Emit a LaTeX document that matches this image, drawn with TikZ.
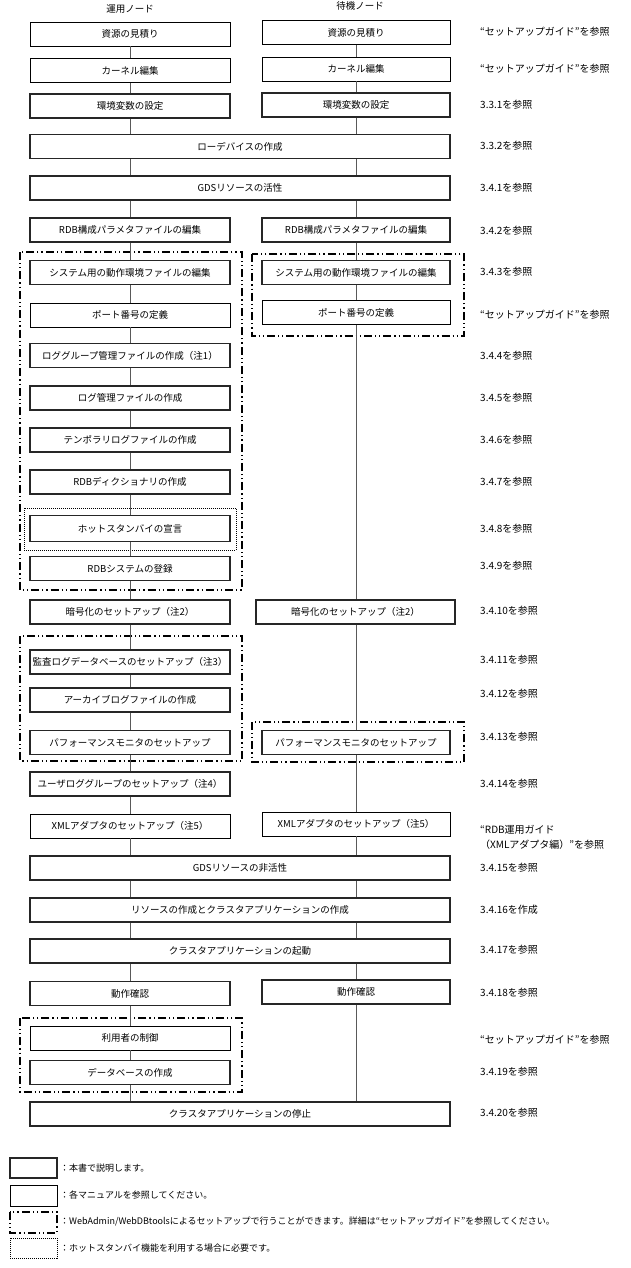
\documentclass[tikz,border=0pt]{standalone}
\usepackage{fontspec}
\setmainfont{Noto Sans CJK JP}
\begin{document}
\begin{tikzpicture}[x=1pt,y=-1pt,
  txt/.style={font=\fontsize{9.5}{11}\selectfont, inner sep=0pt},
  box/.style={txt, draw=black, line width=0.7pt, minimum height=24pt},
  tbox/.style={box, line width=1.4pt, draw=black!85},
  lw/.style={minimum width=200pt},
  rw/.style={minimum width=188pt},
  ww/.style={minimum width=420pt},
  reftxt/.style={txt, anchor=west, font=\fontsize{10}{12}\selectfont},
  legtxt/.style={txt, anchor=west, font=\fontsize{9}{11}\selectfont},
  link/.style={draw=black!65, line width=0.7pt},
  grp/.style={line width=1.2pt, dash pattern=on 8pt off 3pt on 1.2pt off 3pt on 1.2pt off 3pt},
  dotgrp/.style={line width=0.9pt, dash pattern=on 1pt off 1pt}]
\useasboundingbox (0,0) rectangle (630,1268);

% headers
\node[txt] (h1) at (130,9) {運用ノード};
\node[txt] (h2) at (360,6) {待機ノード};

% groups
\draw[grp] (20,252) rectangle (242,590);
\draw[grp] (252,254) rectangle (464,336);
\draw[dotgrp] (24,508) rectangle (236,550);
\draw[grp] (20,636) rectangle (242,761);
\draw[grp] (252,722) rectangle (464,762);
\draw[grp] (20,1018) rectangle (242,1092);

% left / wide boxes
\node[box,lw]  (L1) at (130,34) {資源の見積り};
\node[box,lw]  (L2) at (130,70.5) {カーネル編集};
\node[tbox,lw] (L3) at (130,106) {環境変数の設定};
\node[tbox,ww] (W4) at (240,146.5) {ローデバイスの作成};
\node[tbox,ww] (W5) at (240,188) {GDSリソースの活性};
\node[tbox,lw] (L6) at (130,230) {RDB構成パラメタファイルの編集};
\node[tbox,lw] (L7) at (130,272.5) {システム用の動作環境ファイルの編集};
\node[box,lw]  (L8) at (130,315) {ポート番号の定義};
\node[tbox,lw] (L9) at (130,355.5) {ロググループ管理ファイルの作成（注1）};
\node[tbox,lw] (L10) at (130,398) {ログ管理ファイルの作成};
\node[tbox,lw] (L11) at (130,440) {テンポラリログファイルの作成};
\node[tbox,lw] (L12) at (130,482) {RDBディクショナリの作成};
\node[tbox,lw,minimum height=26pt] (L13) at (130,528.5) {ホットスタンバイの宣言};
\node[tbox,lw] (L14) at (130,568.5) {RDBシステムの登録};
\node[tbox,lw] (L15) at (130,612) {暗号化のセットアップ（注2）};
\node[tbox,lw] (L16) at (130,662) {監査ログデータベースのセットアップ（注3）};
\node[tbox,lw] (L17) at (130,700) {アーカイブログファイルの作成};
\node[tbox,lw] (L18) at (130,742.5) {パフォーマンスモニタのセットアップ};
\node[tbox,lw] (L19) at (130,784) {ユーザロググループのセットアップ（注4）};
\node[box,lw]  (L20) at (130,826) {XMLアダプタのセットアップ（注5）};
\node[tbox,ww] (W21) at (240,868) {GDSリソースの非活性};
\node[tbox,ww] (W22) at (240,910) {リソースの作成とクラスタアプリケーションの作成};
\node[tbox,ww] (W23) at (240,951) {クラスタアプリケーションの起動};
\node[tbox,lw] (L24) at (130,993.5) {動作確認};
\node[box,lw]  (L25) at (130,1038) {利用者の制御};
\node[tbox,lw] (L26) at (130,1072.5) {データベースの作成};
\node[tbox,ww] (W27) at (240,1114) {クラスタアプリケーションの停止};

% right boxes
\node[box,rw]  (R1) at (356,32.5) {資源の見積り};
\node[box,rw]  (R2) at (356,69) {カーネル編集};
\node[tbox,rw] (R3) at (356,105) {環境変数の設定};
\node[tbox,rw] (R6) at (356,230) {RDB構成パラメタファイルの編集};
\node[tbox,rw] (R7) at (356,272.5) {システム用の動作環境ファイルの編集};
\node[box,rw]  (R8) at (356,312.5) {ポート番号の定義};
\node[tbox,lw,minimum width=199pt] (R15) at (355.5,612) {暗号化のセットアップ（注2）};
\node[tbox,rw] (R18) at (356,742.5) {パフォーマンスモニタのセットアップ};
\node[box,rw]  (R20) at (356,824) {XMLアダプタのセットアップ（注5）};
\node[tbox,rw] (R24) at (356,992) {動作確認};

% left chain
\draw[link] (L1) -- (L2);
\draw[link] (L2) -- (L3);
\draw[link] (L3) -- (L3 |- W4.north);
\draw[link] (L3 |- W4.south) -- (L3 |- W5.north);
\draw[link] (L3 |- W5.south) -- (L6);
\draw[link] (L6) -- (L7);
\draw[link] (L7) -- (L8);
\draw[link] (L8) -- (L9);
\draw[link] (L9) -- (L10);
\draw[link] (L10) -- (L11);
\draw[link] (L11) -- (L12);
\draw[link] (L12) -- (L13);
\draw[link] (L13) -- (L14);
\draw[link] (L14) -- (L15);
\draw[link] (L15) -- (L16);
\draw[link] (L16) -- (L17);
\draw[link] (L17) -- (L18);
\draw[link] (L18) -- (L19);
\draw[link] (L19) -- (L20);
\draw[link] (L20) -- (L20 |- W21.north);
\draw[link] (L20 |- W21.south) -- (L20 |- W22.north);
\draw[link] (L20 |- W22.south) -- (L20 |- W23.north);
\draw[link] (L20 |- W23.south) -- (L24);
\draw[link] (L24) -- (L25);
\draw[link] (L25) -- (L26);
\draw[link] (L26) -- (L26 |- W27.north);

% right chain
\draw[link] (R1) -- (R2);
\draw[link] (R2) -- (R3);
\draw[link] (R3) -- (R3 |- W4.north);
\draw[link] (R3 |- W4.south) -- (R3 |- W5.north);
\draw[link] (R3 |- W5.south) -- (R6);
\draw[link] (R6) -- (R7);
\draw[link] (R7) -- (R8);
\draw[link] (R8) -- (R8 |- R15.north);
\draw[link] (R8 |- R15.south) -- (R18);
\draw[link] (R18) -- (R20);
\draw[link] (R20) -- (R20 |- W21.north);
\draw[link] (R20 |- W21.south) -- (R20 |- W22.north);
\draw[link] (R20 |- W22.south) -- (R20 |- W23.north);
\draw[link] (R20 |- W23.south) -- (R24);
\draw[link] (R24) -- (R24 |- W27.north);

% references
\node[reftxt] (t1) at (480,32) {“セットアップガイド”を参照};
\node[reftxt] (t2) at (480,69) {“セットアップガイド”を参照};
\node[reftxt] (t3) at (480,105) {3.3.1を参照};
\node[reftxt] (t4) at (480,146) {3.3.2を参照};
\node[reftxt] (t5) at (480,188) {3.4.1を参照};
\node[reftxt] (t6) at (480,231) {3.4.2を参照};
\node[reftxt] (t7) at (480,272) {3.4.3を参照};
\node[reftxt] (t8) at (480,315) {“セットアップガイド”を参照};
\node[reftxt] (t9) at (480,356) {3.4.4を参照};
\node[reftxt] (t10) at (480,398) {3.4.5を参照};
\node[reftxt] (t11) at (480,440) {3.4.6を参照};
\node[reftxt] (t12) at (480,482) {3.4.7を参照};
\node[reftxt] (t13) at (480,529) {3.4.8を参照};
\node[reftxt] (t14) at (480,566) {3.4.9を参照};
\node[reftxt] (t15) at (480,611) {3.4.10を参照};
\node[reftxt] (t16) at (480,660) {3.4.11を参照};
\node[reftxt] (t17) at (480,694) {3.4.12を参照};
\node[reftxt] (t18) at (480,737) {3.4.13を参照};
\node[reftxt] (t19) at (480,784) {3.4.14を参照};
\node[reftxt] (t20a) at (480,830) {“RDB運用ガイド};
\node[reftxt] (t20b) at (480,845) {（XMLアダプタ編）”を参照};
\node[reftxt] (t21) at (480,868) {3.4.15を参照};
\node[reftxt] (t22) at (480,910) {3.4.16を作成};
\node[reftxt] (t23) at (480,950) {3.4.17を参照};
\node[reftxt] (t24) at (480,993) {3.4.18を参照};
\node[reftxt] (t25) at (480,1040) {“セットアップガイド”を参照};
\node[reftxt] (t26) at (480,1072) {3.4.19を参照};
\node[reftxt] (t27) at (480,1113) {3.4.20を参照};

% legend
\draw[line width=1.4pt, draw=black!85] (10,1158) rectangle (57,1178);
\draw[line width=0.7pt] (10,1185) rectangle (57,1206);
\draw[grp] (10,1212) rectangle (57,1233);
\draw[dotgrp] (10,1238) rectangle (57,1258);
\node[legtxt] (g1) at (60,1168) {：本書で説明します。};
\node[legtxt] (g2) at (60,1195.5) {：各マニュアルを参照してください。};
\node[legtxt] (g3) at (60,1221) {：WebAdmin/WebDBtoolsによるセットアップで行うことができます。詳細は“セットアップガイド”を参照してください。};
\node[legtxt] (g4) at (60,1248) {：ホットスタンバイ機能を利用する場合に必要です。};
\end{tikzpicture}
\end{document}
